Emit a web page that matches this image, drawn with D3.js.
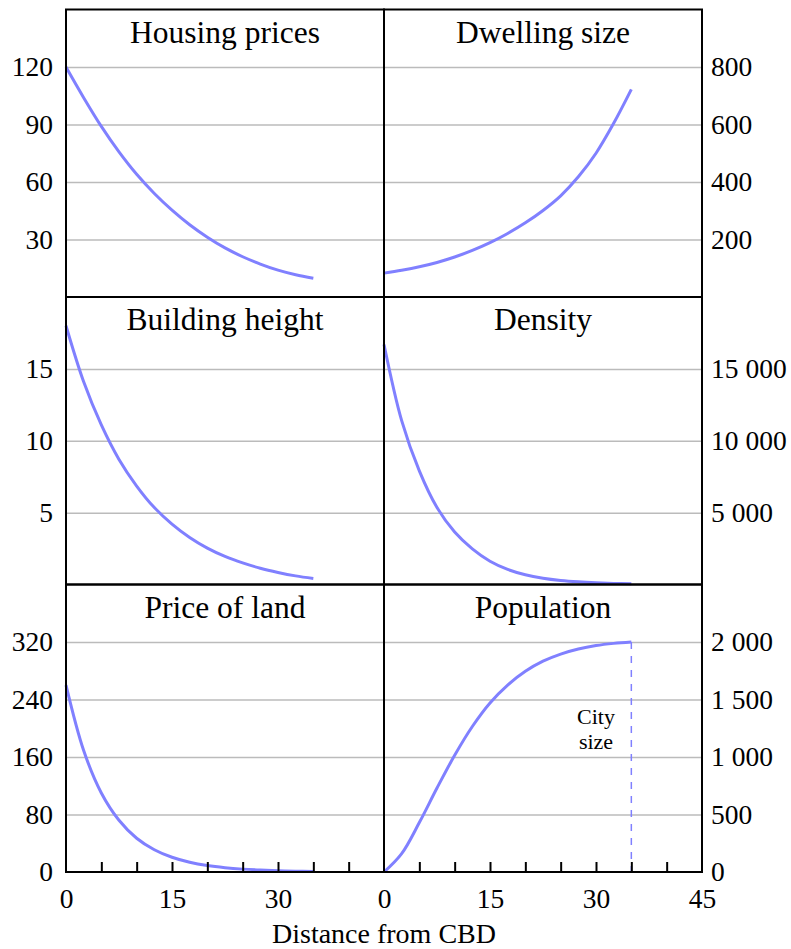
<!DOCTYPE html>
<html>
<head>
<meta charset="utf-8">
<script src="https://cdn.jsdelivr.net/npm/d3@7"></script>
<style>
  body { margin: 0; background: #fff; }
  text { font-family: "Liberation Serif", "Times New Roman", serif; fill: #000; }
</style>
</head>
<body>
<div id="chart"></div>
<script>
// Distance from CBD, every 2.5
const distance = [0, 2.5, 5, 7.5, 10, 12.5, 15, 17.5, 20, 22.5, 25, 27.5, 30, 32.5, 35];

// Values
const housingPrices  = [120, 104, 89, 75.7, 64, 54, 45.3, 37.7, 31.2, 25.6, 21, 17.2, 14, 11.6, 9.8];
const dwellingSize   = [83, 93, 105, 120, 139, 162, 189, 221, 258, 301, 352, 418, 500, 604, 722];
const buildingHeight = [18, 14.1, 11.1, 8.7, 6.85, 5.35, 4.2, 3.27, 2.53, 1.95, 1.5, 1.13, 0.84, 0.6, 0.42];
const density        = [16700, 11400, 7900, 5350, 3650, 2480, 1620, 1050, 680, 440, 285, 185, 120, 78, 50];
const priceOfLand    = [260, 169, 110, 72, 47, 31, 20.5, 13.6, 9, 6, 4, 2.7, 1.8, 1.2, 0.8];
const population     = [0, 160, 430, 730, 1015, 1265, 1470, 1625, 1745, 1833, 1895, 1939, 1969, 1988, 2000];

const panelTitles = ["Housing prices", "Dwelling size", "Building height", "Density", "Price of land", "Population"];
const panelValues = [housingPrices, dwellingSize, buildingHeight, density, priceOfLand, population];
const yMax = [150, 1000, 20, 20000, 400, 2500];
const yTicks = [
  [30, 60, 90, 120],
  [200, 400, 600, 800],
  [5, 10, 15],
  [5000, 10000, 15000],
  [0, 80, 160, 240, 320],
  [0, 500, 1000, 1500, 2000]
];
const xTicksLeft = [0, 15, 30];
const xTicksRight = [0, 15, 30, 45];
const xMinorTicks = [5, 10, 15, 20, 25, 30, 35, 40];
const citySize = 35;

const width = 791, height = 949;
const colLeft = [66, 384];
const colWidth = 318;
const rowTops = [9.5, 297, 584.5];
const rowHeight = 287.5;
const lineColor = "#8080ff";

const svg = d3.select("#chart")
  .append("svg")
  .attr("width", width)
  .attr("height", height);

const fmt = v => d3.format(",")(v).replace(/,/g, " ");

panelTitles.forEach((title, i) => {
  const col = i % 2;
  const row = Math.floor(i / 2);
  const x0 = colLeft[col], y0 = rowTops[row];

  const x = d3.scaleLinear().domain([0, 45]).range([x0, x0 + colWidth]);
  const y = d3.scaleLinear().domain([0, yMax[i]]).range([y0 + rowHeight, y0]);

  const g = svg.append("g");

  // Gridlines
  g.append("g")
    .attr("transform", `translate(${x0},0)`)
    .call(d3.axisLeft(y).tickValues(yTicks[i].filter(v => v > 0)).tickSize(-colWidth).tickFormat(""))
    .call(s => s.select(".domain").remove())
    .selectAll(".tick line")
    .attr("stroke", "#bbbbbb")
    .attr("stroke-width", 1.5);

  // Y labels: left column on left, right column on right
  const yAxis = col === 0
    ? d3.axisLeft(y).tickPadding(13)
    : d3.axisRight(y).tickPadding(9);
  g.append("g")
    .attr("transform", `translate(${col === 0 ? x0 : x0 + colWidth},0)`)
    .call(yAxis.tickValues(yTicks[i]).tickSize(0).tickFormat(fmt))
    .call(s => s.select(".domain").remove())
    .selectAll("text")
    .style("font-size", "27.5px")
    .style("font-family", '"Liberation Serif", serif')
    .attr("fill", "#000");

  // Curve
  const line = d3.line()
    .x((d, j) => x(distance[j]))
    .y(d => y(d))
    .curve(d3.curveCatmullRom.alpha(0.5));

  g.append("path")
    .datum(panelValues[i])
    .attr("d", line)
    .attr("fill", "none")
    .attr("stroke", lineColor)
    .attr("stroke-width", 3);

  // City size marker on population panel
  if (title === "Population") {
    g.append("line")
      .attr("x1", x(citySize)).attr("x2", x(citySize))
      .attr("y1", y(population[population.length - 1]))
      .attr("y2", y(0))
      .attr("stroke", lineColor)
      .attr("stroke-width", 1.5)
      .attr("stroke-dasharray", "7,7");

    g.append("text")
      .attr("x", 596).attr("y", 724)
      .attr("text-anchor", "middle")
      .style("font-size", "22px")
      .text("City");
    g.append("text")
      .attr("x", 596).attr("y", 749)
      .attr("text-anchor", "middle")
      .style("font-size", "22px")
      .text("size");
  }

  // Bottom row: x ticks and labels
  if (row === 2) {
    g.append("g")
      .attr("transform", `translate(0,${y0 + rowHeight})`)
      .call(d3.axisBottom(x).tickValues(xMinorTicks).tickSize(-10).tickFormat(""))
      .call(s => s.select(".domain").remove())
      .selectAll(".tick line")
      .attr("stroke", "#000")
      .attr("stroke-width", 2);

    g.append("g")
      .attr("transform", `translate(0,${y0 + rowHeight})`)
      .call(d3.axisBottom(x).tickValues(col === 0 ? xTicksLeft : xTicksRight).tickSize(0).tickPadding(16))
      .call(s => s.select(".domain").remove())
      .selectAll("text")
      .style("font-size", "27.5px")
      .style("font-family", '"Liberation Serif", serif')
      .attr("fill", "#000");
  }

  // Panel frame
  g.append("rect")
    .attr("x", x0).attr("y", y0)
    .attr("width", colWidth).attr("height", rowHeight)
    .attr("fill", "none")
    .attr("stroke", "#000")
    .attr("stroke-width", 2);

  // Panel title
  g.append("text")
    .attr("x", x0 + colWidth / 2)
    .attr("y", y0 + 33)
    .attr("text-anchor", "middle")
    .style("font-size", "31.5px")
    .text(title);
});

// X axis title
svg.append("text")
  .attr("x", 384)
  .attr("y", 943)
  .attr("text-anchor", "middle")
  .style("font-size", "28px")
  .text("Distance from CBD");
</script>
</body>
</html>
